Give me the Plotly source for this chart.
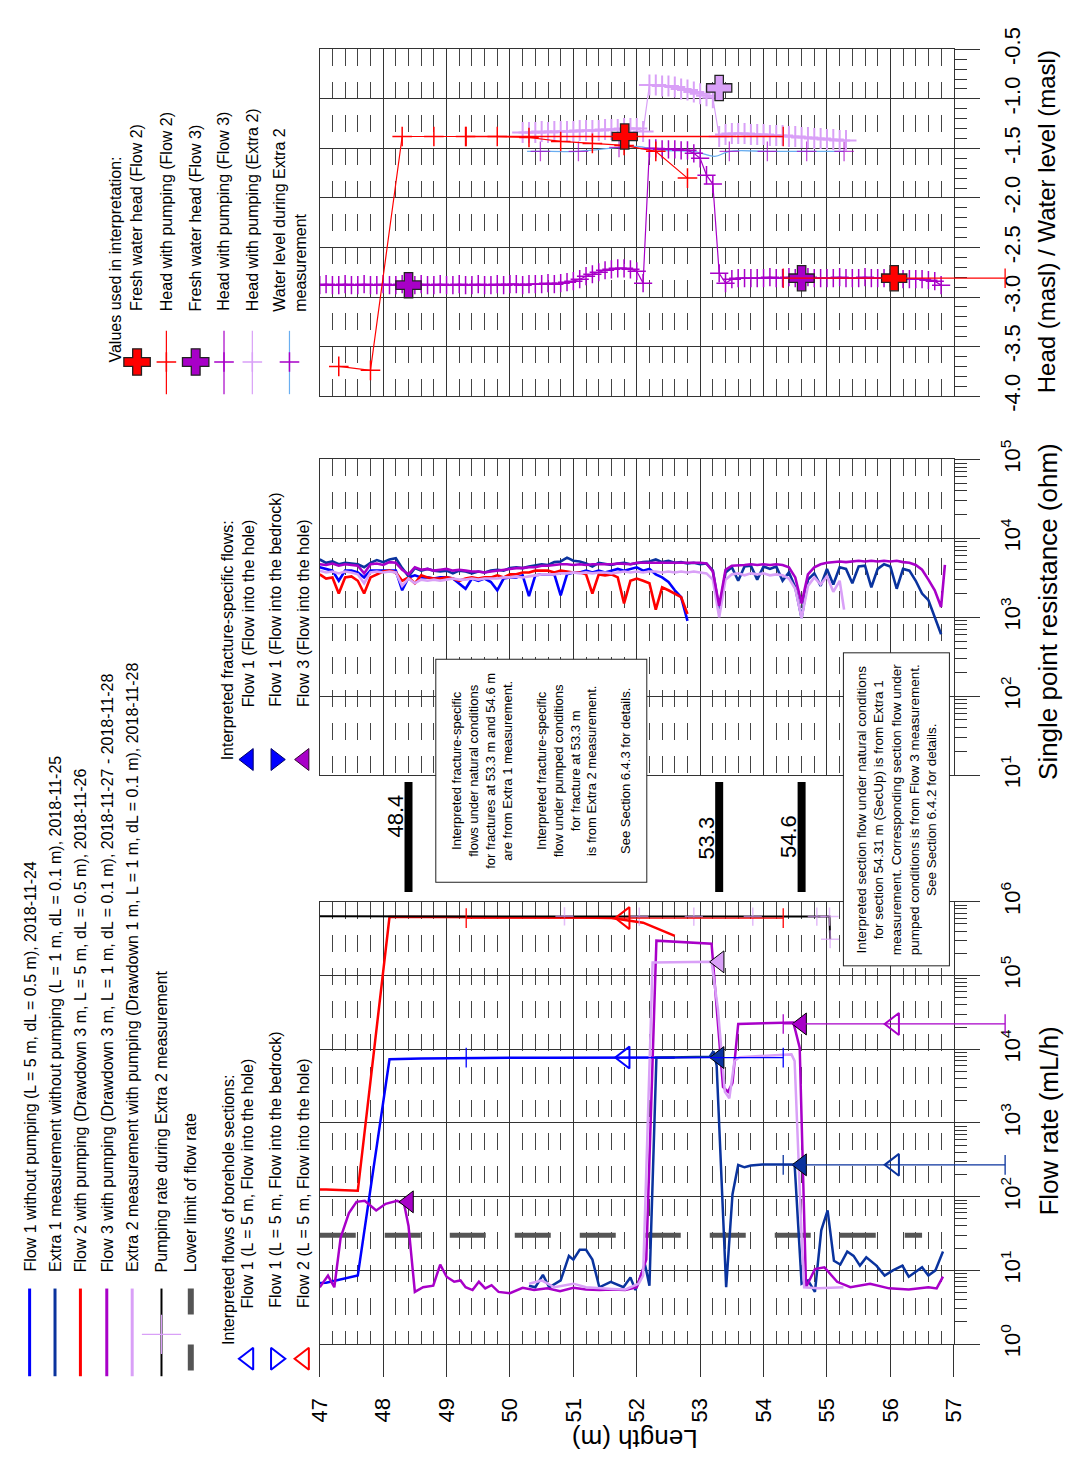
import plotly.graph_objects as go

W, H = 1083, 1477
FONT = "Liberation Sans, Arial, sans-serif"
INK = "#333333"

BLUE = "#0000FF"
NAVY = "#0A339E"
RED = "#FF0000"
PURPLE = "#A800C8"
LILAC = "#D9A0F7"
GRAY = "#555555"
SKY = "#6AAEF0"

# ---------------------------------------------------------------- data
# Flow rate along the hole (mL/h)
FLOW1_L = [46.6, 47.1, 47.6, 48.1, 48.6, 49.1, 49.6, 50.1, 50.6, 51.1, 51.6, 52.1, 52.6]
FLOW1_Q = [6.5, 6.8, 8.5, 7300, 7500, 7600, 7600, 7650, 7650, 7700, 7700, 7700, 7700]

FLOW2_L = [46.6, 47.1, 47.6, 48.1, 48.6, 49.1, 49.6, 50.1, 50.6, 51.1, 51.6, 52.1, 52.6]
FLOW2_Q = [126, 125, 120, 6.2e5, 6.2e5, 6.2e5, 6.2e5, 6.2e5, 6.2e5, 6.1e5, 6.0e5, 5.2e5, 3.45e5]

EXTRA1_L = [50.3, 50.4, 50.52, 50.62, 50.8, 50.93, 51.0, 51.1, 51.2, 51.3,
            51.41, 51.59, 51.79, 51.9, 51.98, 52.13, 52.2, 52.31, 53.15, 53.21,
            53.26, 53.41, 53.51, 53.6, 53.7, 53.8, 53.98, 54.49, 54.6, 54.7,
            54.81, 54.91, 55.01, 55.11, 55.21, 55.32, 55.42, 55.52, 55.62, 55.78,
            55.91, 56.04, 56.19, 56.29, 56.5, 56.6, 56.71, 56.83]
EXTRA1_Q = [6.2, 5.9, 8.7, 5.9, 7.3, 15.7, 14, 19, 19, 14,
            5.9, 7, 5.9, 8, 5.4, 12, 6.2, 7670, 7900, 9400,
            6000, 5.9, 108, 269, 250, 265, 272, 272, 6.6, 7.3,
            5.1, 35, 65, 13.5, 12, 18, 15.7, 11.6, 15, 11.6,
            8.5, 10, 11.6, 8.2, 11, 8.5, 10, 18]

FLOW3_L = [47.0, 47.13, 47.23, 47.33, 47.46, 47.58, 47.71, 47.89, 48.04, 48.22,
           48.33, 48.4, 48.5, 48.63, 48.79, 48.9, 49.0, 49.12, 49.22, 49.3,
           49.41, 49.51, 49.61, 49.71, 49.82, 50.0, 50.2, 50.38, 50.59, 50.79,
           51.0, 51.2, 51.41, 51.61, 51.82, 52.0, 52.15, 52.31, 53.18, 53.36,
           53.44, 53.51, 53.6, 54.47, 54.57, 54.67, 54.81, 54.96, 55.16, 55.37,
           55.68, 55.98, 56.29, 56.6, 56.73, 56.83]
FLOW3_Q = [5.9, 8.5, 5.9, 28, 60, 85, 88, 65, 80, 88,
           80, 40, 5.1, 5.9, 6.2, 12, 8.2, 7, 7.3, 5.9,
           5.4, 7, 5.7, 6.3, 5.1, 4.9, 5.8, 5.4, 5.7, 5.2,
           5.8, 5.5, 5.4, 5.5, 5.4, 5.9, 14, 2.97e5, 2.7e5, 3070,
           2640, 3500, 2.2e4, 2.3e4, 1.05e4, 5.9, 10.4, 11, 7, 5.9,
           6.6, 5.7, 5.5, 5.9, 5.7, 8.2]

EXTRA2_L = [50.3, 50.5, 50.7, 51.0, 51.2, 51.41, 51.61, 51.82, 52.03, 52.1,
            52.25, 53.18, 53.28, 53.39, 53.46, 53.54, 53.62, 54.44, 54.49, 54.6,
            54.64, 54.86, 55.06, 55.26]
EXTRA2_Q = [6.6, 7.3, 5.9, 6.6, 5.9, 5.7, 5.6, 5.5, 6.6, 8.5,
            1.5e5, 1.53e5, 3.5e4, 2640, 2150, 6900, 7800, 8500, 6900, 29,
            5.9, 5.7, 5.8, 5.9]

PUMP_L = [47.0, 50.86, 52.04, 52.9, 53.83, 54.84, 55.04, 55.05]
PUMP_Q = [6.35e5, 6.35e5, 6.3e5, 6.3e5, 6.3e5, 6.3e5, 6.3e5, 3.1e5]
PUMP_READING = [False, True, True, True, True, True, True, True]

LOWER_L = [47.0, 56.5]
LOWER_Q = [30, 30]

# Interpreted flows of borehole sections
SEC_FROM = [49.31, 49.31, 54.31, 54.31]
SEC_TO = [54.31, 54.31, 57.81, 57.81]
SEC_Q = [7700, 6.0e5, 2.2e4, 270]
SEC_COLORS = [BLUE, RED, PURPLE, NAVY]

# Interpreted fracture-specific flows
FRAC_L = [48.4, 53.3, 53.3, 54.6, 54.6]
FRAC_Q = [85, 7700, 1.53e5, 2.2e4, 270]
FRAC_COLORS = [PURPLE, NAVY, LILAC, PURPLE, NAVY]
FRACTURES = [48.4, 53.3, 54.6]

# Single point resistance (ohm), dL = 0.1 m
FLOW1_SPR = [4300, 4100, 3900, 2900, 3900, 3900, 3700, 3200, 3900, 3900,
             3900, 3900, 3900, 2200, 3200, 3400, 3200, 3200, 3100, 3200,
             3200, 3100, 2700, 2300, 3100, 2900, 3100, 2800, 2200, 3100,
             3200, 3200, 3400, 1860, 3400, 3500, 3500, 3500, 1900, 3500,
             3700, 3700, 3900, 3700, 3900, 3700, 3900, 4100, 3900, 4100,
             4300, 3900, 4100, 3500, 3200, 2800, 2200, 1800, 900]
FLOW2_SPR = [3500, 3100, 3200, 2000, 3200, 3300, 2900, 2000, 3200, 3500,
             3800, 3900, 3700, 2900, 3200, 2700, 3400, 3200, 3100, 3100,
             3200, 3100, 2900, 3100, 3200, 3100, 3200, 3200, 3400, 3200,
             3500, 3500, 3700, 3700, 3900, 3900, 3900, 3700, 3900, 3800,
             3700, 3700, 3500, 2000, 3500, 3400, 3500, 3200, 1500, 2900,
             3100, 2900, 2700, 1250, 2400, 2200, 2000, 1800, 1100]
EXTRA1_SPR = [5400, 4900, 5100, 4700, 4900, 4800, 4700, 4300, 4900, 5300,
              5000, 5400, 5600, 4200, 3300, 4200, 3900, 4100, 3900, 3800,
              3900, 3600, 3900, 3800, 3600, 3800, 3700, 3900, 4000, 3900,
              4200, 4300, 4200, 4400, 4500, 4700, 4600, 5000, 5100, 5700,
              5200, 5100, 4800, 4400, 4900, 4800, 4600, 4800, 4900, 4700,
              4900, 5000, 5100, 5400, 5000, 5200, 4900, 5000, 4800, 4900,
              4700, 4800, 3900, 1250, 3700, 4300, 2900, 4400, 4500, 3000,
              4400, 4100, 4400, 2900, 3700, 2400, 980, 3000, 3600, 2500,
              4100, 2600, 4300, 4100, 2700, 4400, 4500, 2400, 4100, 4700,
              4400, 2300, 4100, 3900, 2900, 2000, 1650, 1030, 610]
FLOW3_SPR = [4700, 4600, 4800, 4500, 4700, 4600, 4500, 3600, 4700, 4800,
             4600, 5000, 4900, 4000, 3500, 4300, 4000, 4100, 3900, 4000,
             4100, 3900, 4000, 3900, 3800, 3800, 3700, 3800, 3900, 4000,
             4100, 4200, 4200, 4300, 4300, 4500, 4500, 4600, 4700, 4700,
             4600, 4700, 4600, 4700, 4700, 4600, 4700, 4800, 4800, 4700,
             4900, 4900, 5000, 4900, 5000, 5000, 4900, 5000, 4900, 5000,
             4900, 4800, 3800, 1400, 4000, 4500, 4600, 4600, 4700, 4600,
             4700, 4600, 4700, 4600, 4300, 3200, 1500, 3500, 4300, 4700,
             4900, 5000, 5100, 5000, 5100, 5200, 5100, 5200, 5100, 5200,
             5100, 5200, 5000, 4900, 4600, 4000, 3000, 2200, 1350]
FLOW3_SPR_END = (56.86, 4600)
EXTRA2_SPR = [3900, 3700, 3800, 3600, 3800, 3700, 3500, 2700, 3700, 3800,
              3700, 3800, 3700, 2500, 3100, 2700, 3000, 2900, 3000, 2900,
              3000, 3100, 3000, 3000, 3100, 3000, 3100, 3100, 3100, 3200,
              3200, 3300, 3200, 3300, 3400, 3500, 3500, 3500, 3600, 3600,
              3700, 3600, 3700, 3600, 3700, 3700, 3600, 3700, 3800, 3700,
              3800, 3700, 3800, 3800, 3700, 3800, 3700, 3800, 3700, 3800,
              3700, 3600, 3000, 1000, 3000, 3500, 3600, 3400, 3600, 3500,
              3600, 3400, 3500, 3400, 3100, 2300, 980, 2500, 3200, 2600,
              3300, 2100, 2900]
EXTRA2_SPR_END = (55.27, 1250)
SPR_START = 47.0
SPR_STEP = 0.1

# Heads (masl)
HEAD2_L = [47.3, 47.8, 48.3, 48.8, 49.3, 49.8, 50.3, 50.8, 51.3, 51.8, 52.3, 52.8]
HEAD2_H = [-3.70, -3.74, -1.38, -1.38, -1.38, -1.38, -1.39, -1.43, -1.45, -1.47, -1.53, -1.80]

HEAD3_START = 47.0
HEAD3_H = [-2.88, -2.87, -2.88, -2.88, -2.87, -2.88, -2.88, -2.87, -2.88, -2.88,
           -2.87, -2.88, -2.88, -2.87, -2.88, -2.88, -2.87, -2.88, -2.88, -2.87,
           -2.88, -2.88, -2.87, -2.88, -2.88, -2.87, -2.88, -2.88, -2.87, -2.88,
           -2.87, -2.87, -2.88, -2.87, -2.87, -2.87, -2.86, -2.87, -2.86, -2.85,
           -2.84, -2.82, -2.79, -2.77, -2.75, -2.73, -2.72, -2.71, -2.71, -2.72,
           -2.74, -2.86, -1.50, -1.50, -1.51, -1.51, -1.51, -1.52, -1.52, -1.55,
           -1.60, -1.77, -1.86, -2.76, -2.86, -2.82, -2.81, -2.81, -2.81, -2.81,
           -2.81, -2.80, -2.81, -2.81, -2.80, -2.81, -2.81, -2.80, -2.81, -2.81,
           -2.81, -2.81, -2.80, -2.81, -2.81, -2.81, -2.80, -2.81, -2.81, -2.81,
           -2.81, -2.81, -2.82, -2.82, -2.82, -2.82, -2.83, -2.84, -2.88]

EXTRA2_HEAD_START = 50.2
EXTRA2_HEAD_H = [-1.34, -1.34, -1.34, -1.33, -1.34, -1.33, -1.33, -1.33, -1.33, -1.32,
                 -1.32, -1.32, -1.32, -1.31, -1.31, -1.31, -1.30, -1.30, -1.30, -1.33,
                 -0.86, -0.86, -0.87, -0.87, -0.88, -0.90, -0.91, -0.93, -0.95, -0.97,
                 -0.99, -1.38, -1.36, -1.35, -1.35, -1.35, -1.36, -1.36, -1.36, -1.37,
                 -1.37, -1.37, -1.38, -1.38, -1.39, -1.39, -1.40, -1.40, -1.41, -1.41,
                 -1.42, -1.42]
HEAD_STEP = 0.1

WL_L = [50.27, 50.48, 51.08, 51.72, 52.0, 52.4, 52.9, 53.23, 53.46, 54.06, 54.68, 55.27]
WL_H = [-1.53, -1.53, -1.53, -1.49, -1.48, -1.52, -1.53, -1.58, -1.53, -1.53, -1.53, -1.53]
WL_READING = [False, True, True, True, False, False, False, False, True, True, True, True]

SEC_HEAD_FROM = [49.31, 54.31]
SEC_HEAD_TO = [54.31, 57.81]
SEC_HEAD_H = [-1.38, -2.81]
FRESH2_L = [51.81, 56.06]
FRESH2_H = [-1.38, -2.81]
FRESH3_L = [48.4, 54.6]
FRESH3_H = [-2.88, -2.81]
PUMPED_E2_L = [53.3]
PUMPED_E2_H = [-0.89]

# Axis ticks
LENGTH_TICKS = [47, 48, 49, 50, 51, 52, 53, 54, 55, 56, 57]
FLOW_EXP = [0, 1, 2, 3, 4, 5, 6]
SPR_EXP = [1, 2, 3, 4, 5]
HEAD_TICKS = [-4.0, -3.5, -3.0, -2.5, -2.0, -1.5, -1.0, -0.5]

# ---------------------------------------------------------------- layout geometry (pixels)
L_MIN, L_MAX = 47, 57
X_LEFT, X_RIGHT = 314, 963
FLOW_TOP, FLOW_BOT = 903, 1357
SPR_TOP, SPR_BOT = 449, 773
HEAD_TOP, HEAD_BOT = 28, 384
L_EXT_MAX = L_MIN + (W - X_LEFT) * (L_MAX - L_MIN) / (X_RIGHT - X_LEFT)


def px(x):
    return x / W


def py(y):
    return 1 - y / H


def positions(start, n, step):
    return [round(start + step * i, 3) for i in range(n)]


fig = go.Figure()


def add(trace):
    trace.update(showlegend=False, hoverinfo="skip")
    fig.add_trace(trace)


# ---------------------------------------------------------------- flow rate panel
add(go.Scatter(x=LOWER_L, y=LOWER_Q, mode="lines",
               line=dict(color=GRAY, width=5, dash="36px,29px")))
add(go.Scatter(x=FLOW1_L, y=FLOW1_Q, mode="lines", line=dict(color=BLUE, width=2.5)))
add(go.Scatter(x=FLOW2_L, y=FLOW2_Q, mode="lines", line=dict(color=RED, width=2.5)))
add(go.Scatter(x=PUMP_L, y=PUMP_Q, mode="lines+markers", line=dict(color="black", width=2),
               marker=dict(symbol="cross-thin", size=[13 if r else 0 for r in PUMP_READING],
                           color=LILAC, line=dict(color=LILAC, width=1.5))))
add(go.Scatter(x=EXTRA1_L, y=EXTRA1_Q, mode="lines", line=dict(color=NAVY, width=2.5)))
add(go.Scatter(x=FLOW3_L, y=FLOW3_Q, mode="lines", line=dict(color=PURPLE, width=2.5)))
add(go.Scatter(x=EXTRA2_L, y=EXTRA2_Q, mode="lines", line=dict(color=LILAC, width=2.5)))

# section flows (drawn on the wider twin axes so they may run past the hole bottom)
for a, b, q, c in zip(SEC_FROM, SEC_TO, SEC_Q, SEC_COLORS):
    add(go.Scatter(x=[a, b], y=[q, q], mode="lines+markers", xaxis="x4", yaxis="y4",
                   line=dict(color=c, width=1.3),
                   marker=dict(symbol="line-ns", size=14, color=c, line=dict(color=c, width=1.3))))
    add(go.Scatter(x=[(a + b) / 2], y=[q], mode="markers", xaxis="x4", yaxis="y4",
                   marker=dict(symbol="triangle-left-open", size=19, color=c,
                               line=dict(color=c, width=2))))

# fracture-specific flows
add(go.Scatter(x=FRAC_L, y=FRAC_Q, mode="markers",
               marker=dict(symbol="triangle-left", size=19, color=FRAC_COLORS,
                           line=dict(color="black", width=1))))

# ---------------------------------------------------------------- single point resistance panel
spr_series = [
    (FLOW1_SPR, None, BLUE),
    (FLOW2_SPR, None, RED),
    (EXTRA1_SPR, None, NAVY),
    (EXTRA2_SPR, EXTRA2_SPR_END, LILAC),
    (FLOW3_SPR, FLOW3_SPR_END, PURPLE),
]
for vals, end, col in spr_series:
    xs = positions(SPR_START, len(vals), SPR_STEP)
    ys = list(vals)
    if end:
        xs.append(end[0])
        ys.append(end[1])
    add(go.Scatter(x=xs, y=ys, mode="lines", xaxis="x2", yaxis="y2",
                   line=dict(color=col, width=2.6)))

# ---------------------------------------------------------------- head panel
add(go.Scatter(x=WL_L, y=WL_H, mode="lines+markers", xaxis="x3", yaxis="y3",
               line=dict(color=SKY, width=1.3, shape="spline"),
               marker=dict(symbol="cross-thin", size=[14 if r else 0 for r in WL_READING],
                           color=PURPLE, line=dict(color=PURPLE, width=1.3))))
add(go.Scatter(x=positions(EXTRA2_HEAD_START, len(EXTRA2_HEAD_H), HEAD_STEP), y=EXTRA2_HEAD_H,
               mode="lines+markers", xaxis="x3", yaxis="y3",
               line=dict(color=LILAC, width=1.2),
               marker=dict(symbol="cross-thin", size=15, color=LILAC, line=dict(color=LILAC, width=2))))
add(go.Scatter(x=positions(HEAD3_START, len(HEAD3_H), HEAD_STEP), y=HEAD3_H,
               mode="lines+markers", xaxis="x3", yaxis="y3",
               line=dict(color=PURPLE, width=1.2),
               marker=dict(symbol="cross-thin", size=13, color=PURPLE, line=dict(color=PURPLE, width=1.5))))
add(go.Scatter(x=HEAD2_L, y=HEAD2_H, mode="lines+markers", xaxis="x3", yaxis="y3",
               line=dict(color=RED, width=1.2),
               marker=dict(symbol="cross-thin", size=14, color=RED, line=dict(color=RED, width=1.5))))
for a, b, h in zip(SEC_HEAD_FROM, SEC_HEAD_TO, SEC_HEAD_H):
    add(go.Scatter(x=[a, b], y=[h, h], mode="lines+markers", xaxis="x5", yaxis="y5",
                   line=dict(color=RED, width=1.3),
                   marker=dict(symbol="line-ns", size=14, color=RED, line=dict(color=RED, width=1.3))))
big_plus = dict(symbol="cross", size=21, line=dict(color="#222222", width=1.3))
add(go.Scatter(x=FRESH3_L, y=FRESH3_H, mode="markers", xaxis="x3", yaxis="y3",
               marker=dict(color=PURPLE, **big_plus)))
add(go.Scatter(x=PUMPED_E2_L, y=PUMPED_E2_H, mode="markers", xaxis="x3", yaxis="y3",
               marker=dict(color=LILAC, **big_plus)))
add(go.Scatter(x=FRESH2_L, y=FRESH2_H, mode="markers", xaxis="x3", yaxis="y3",
               marker=dict(color=RED, **big_plus)))


# ---------------------------------------------------------------- legend keys (pixel canvas)
def key_line(x, y0, y1, color, width, dash=None):
    add(go.Scatter(x=[x, x], y=[y0, y1], mode="lines", xaxis="x6", yaxis="y6",
                   line=dict(color=color, width=width, dash=dash)))


def key_marker(x, y, symbol, size, color, lcolor=None, lwidth=1.5):
    add(go.Scatter(x=[x], y=[y], mode="markers", xaxis="x6", yaxis="y6",
                   marker=dict(symbol=symbol, size=size, color=color,
                               line=dict(color=lcolor or color, width=lwidth))))


for xk, col in zip([17, 43, 69, 96, 122], [BLUE, NAVY, RED, PURPLE, LILAC]):
    key_line(xk, 1300, 1390, col, 3)
key_line(152, 1300, 1390, "black", 2)
key_marker(152, 1347, "cross-thin", 28, LILAC, lwidth=1.2)
key_line(182, 1300, 1390, GRAY, 6, dash="26px,30px")

key_marker(241, 1372, "triangle-left-open", 19, BLUE, lwidth=2)
key_marker(269, 1372, "triangle-right-open", 19, BLUE, lwidth=2)
key_marker(298, 1372, "triangle-left-open", 19, RED, lwidth=2)

key_marker(241, 757, "triangle-left", 19, BLUE, "#000066", 1)
key_marker(269, 757, "triangle-right", 19, BLUE, "#000066", 1)
key_marker(298, 757, "triangle-left", 19, PURPLE, "#330033", 1)

key_marker(127, 349, "cross", 22, RED, "#222222", 1.3)
key_line(157, 317, 382, RED, 1.2)
key_marker(157, 349, "cross-thin", 14, RED)
key_marker(187, 349, "cross", 22, PURPLE, "#222222", 1.3)
key_line(216, 317, 382, PURPLE, 1.2)
key_marker(216, 349, "cross-thin", 14, PURPLE)
key_line(245, 317, 382, LILAC, 1.2)
key_marker(245, 349, "cross-thin", 14, LILAC)
key_line(283, 317, 382, SKY, 1.2)
key_marker(283, 349, "cross-thin", 14, PURPLE)

# ---------------------------------------------------------------- axes
grid_minor = dict(dtick=0.2, showgrid=True, gridcolor="#444444", gridwidth=1.3,
                  griddash="17px,16px", ticks="")
x_common = dict(range=[L_MIN, L_MAX], domain=[px(X_LEFT), px(X_RIGHT)], tickmode="array",
                tickvals=LENGTH_TICKS, showgrid=True, gridcolor=INK, gridwidth=1.2,
                zeroline=False, showline=True, linecolor=INK, linewidth=1.2, mirror=True,
                minor=grid_minor)
y_common = dict(side="right", showgrid=True, gridcolor=INK, gridwidth=1.2, zeroline=False,
                showline=True, linecolor=INK, linewidth=1.2, mirror=True,
                ticks="outside", ticklen=25, tickwidth=1.2, tickcolor=INK, tickangle=-90,
                ticklabelstandoff=14, tickfont=dict(family=FONT, size=22, color="black"))

minor_log = [k * 10 ** d for d in range(0, 6) for k in range(2, 10)]

fig.update_layout(
    xaxis=dict(**x_common, anchor="y", ticks="outside", ticklen=32, tickwidth=1.2, tickcolor=INK,
               tickangle=-90, ticklabelstandoff=12,
               tickfont=dict(family=FONT, size=22, color="black")),
    yaxis=dict(**y_common, type="log", range=[0, 6], anchor="x",
               domain=[py(FLOW_BOT), py(FLOW_TOP)], tickmode="array",
               tickvals=[10 ** e for e in FLOW_EXP],
               ticktext=[f"10<sup>{e}</sup>" for e in FLOW_EXP],
               minor=dict(tickmode="array", tickvals=minor_log, ticks="outside", ticklen=12,
                          tickwidth=1.2, tickcolor=INK, showgrid=False)),
    xaxis2=dict(**x_common, anchor="y2", matches="x", showticklabels=False, ticks=""),
    yaxis2=dict(**y_common, type="log", range=[1, 5], anchor="x2",
                domain=[py(SPR_BOT), py(SPR_TOP)], tickmode="array",
                tickvals=[10 ** e for e in SPR_EXP],
                ticktext=[f"10<sup>{e}</sup>" for e in SPR_EXP],
                minor=dict(tickmode="array", tickvals=[v for v in minor_log if 10 < v < 1e5],
                           ticks="outside", ticklen=12, tickwidth=1.2, tickcolor=INK,
                           showgrid=False)),
    xaxis3=dict(**x_common, anchor="y3", matches="x", showticklabels=False, ticks=""),
    yaxis3=dict(**y_common, range=[-4, -0.5], anchor="x3",
                domain=[py(HEAD_BOT), py(HEAD_TOP)], tickmode="array",
                tickvals=HEAD_TICKS, ticktext=[f"{v:.1f}" for v in HEAD_TICKS],
                minor=dict(dtick=0.1, ticks="outside", ticklen=12, tickwidth=1.2,
                           tickcolor=INK, showgrid=False)),
    # twins sharing the same scales but reaching the right edge of the page
    xaxis4=dict(domain=[px(X_LEFT), 1], range=[L_MIN, L_EXT_MAX], anchor="y4", visible=False),
    yaxis4=dict(domain=[py(FLOW_BOT), py(FLOW_TOP)], type="log", range=[0, 6], anchor="x4",
                visible=False),
    xaxis5=dict(domain=[px(X_LEFT), 1], range=[L_MIN, L_EXT_MAX], anchor="y5", visible=False),
    yaxis5=dict(domain=[py(HEAD_BOT), py(HEAD_TOP)], range=[-4, -0.5], anchor="x5",
                visible=False),
    # pixel canvas for legend keys
    xaxis6=dict(domain=[0, 1], range=[0, W], anchor="y6", visible=False),
    yaxis6=dict(domain=[0, 1], range=[H, 0], anchor="x6", visible=False),
)

# fracture positions
for i, f in enumerate(FRACTURES):
    fig.add_shape(type="line", xref="x", yref="paper", x0=f, x1=f, y0=py(893), y1=py(780),
                  line=dict(color="black", width=8))
    fig.add_annotation(x=f, y=py([815, 838, 836][i]), xref="x", yref="paper", text=f"{f}",
                       showarrow=False, textangle=-90, xanchor="center", yanchor="middle",
                       xshift=-13, font=dict(family=FONT, size=22, color="black"))


# ---------------------------------------------------------------- texts
def vtext(x, y, text, size=16, yanchor="bottom", angle=-90, align="left", **kw):
    fig.add_annotation(x=px(x), y=py(y), xref="paper", yref="paper", text=text,
                       showarrow=False, textangle=angle, xanchor="center", yanchor=yanchor,
                       align=align, font=dict(family=FONT, size=size, color="black"), **kw)


flow_legend = [
    "Flow 1 without pumping (L = 5 m, dL = 0.5 m), 2018-11-24",
    "Extra 1 measurement without pumping (L = 1 m, dL = 0.1 m), 2018-11-25",
    "Flow 2 with pumping (Drawdown 3 m, L = 5 m, dL = 0.5 m), 2018-11-26",
    "Flow 3 with pumping (Drawdown 3 m, L = 1 m, dL = 0.1 m), 2018-11-27 - 2018-11-28",
    "Extra 2 measurement with pumping (Drawdown 1 m, L = 1 m, dL = 0.1 m), 2018-11-28",
    "Pumping rate during Extra 2 measurement",
    "Lower limit of flow rate",
]
for xk, t in zip([18, 44, 70, 97, 123, 152, 182], flow_legend):
    vtext(xk, 1285, t)

vtext(220, 1360, "Interpreted flows of borehole sections:")
for xk, t in zip([241, 269, 298], ["Flow 1 (L = 5 m, Flow into the hole)",
                                  "Flow 1 (L = 5 m, Flow into the bedrock)",
                                  "Flow 2 (L = 5 m, Flow into the hole)"]):
    vtext(xk, 1322, t)

vtext(220, 760, "Interpreted fracture-specific flows:")
for xk, t in zip([241, 269, 298], ["Flow 1 (Flow into the hole)",
                                  "Flow 1 (Flow into the bedrock)",
                                  "Flow 3 (Flow into the hole)"]):
    vtext(xk, 705, t)

vtext(105, 352, "Values used in interpretation:")
for xk, t in zip([127, 157, 187, 216, 245], ["Fresh water head (Flow 2)",
                                            "Head with pumping (Flow 2)",
                                            "Fresh water head (Flow 3)",
                                            "Head with pumping (Flow 3)",
                                            "Head with pumping (Extra 2)"]):
    vtext(xk, 299, t)
vtext(284, 299, "Water level during Extra 2<br>measurement")

box1 = ("Interpreted fracture-specific<br>flows under natural conditions<br>"
        "for fractures at 53.3 m and 54.6 m<br>are from Extra 1 measurement.<br><br>"
        "Interpreted fracture-specific<br>flow under pumped conditions<br>"
        "for fracture at 53.3 m<br>is from Extra 2 measurement.<br><br>"
        "See Section 6.4.3 for details.")
vtext(540.5, 768.5, box1, size=13, yanchor="middle", align="center",
      bgcolor="white", bordercolor="#222222", borderwidth=1, borderpad=13)
box2 = ("Interpreted section flow under natural conditions<br>"
        "for section 54.31 m (SecUp) is from Extra 1<br>"
        "measurement. Corresponding section flow under<br>"
        "pumped conditions is from Flow 3 measurement.<br>"
        "See Section 6.4.2 for details.")
vtext(904.5, 808.5, box2, size=13.5, yanchor="middle", align="center",
      bgcolor="white", bordercolor="#222222", borderwidth=1, borderpad=10)

vtext(1060, 1128, "Flow rate (mL/h)", size=26, yanchor="middle")
vtext(1060, 605, "Single point resistance (ohm)", size=26, yanchor="middle")
vtext(1058, 205, "Head (masl) / Water level (masl)", size=24, yanchor="middle")
vtext(636, 1455, "Length (m)", size=26, yanchor="middle", angle=180)

fig.update_layout(width=W, height=H, margin=dict(l=0, r=0, t=0, b=0),
                  paper_bgcolor="white", plot_bgcolor="rgba(0,0,0,0)",
                  showlegend=False, font=dict(family=FONT, color="black"))

fig.write_html("out.html")
